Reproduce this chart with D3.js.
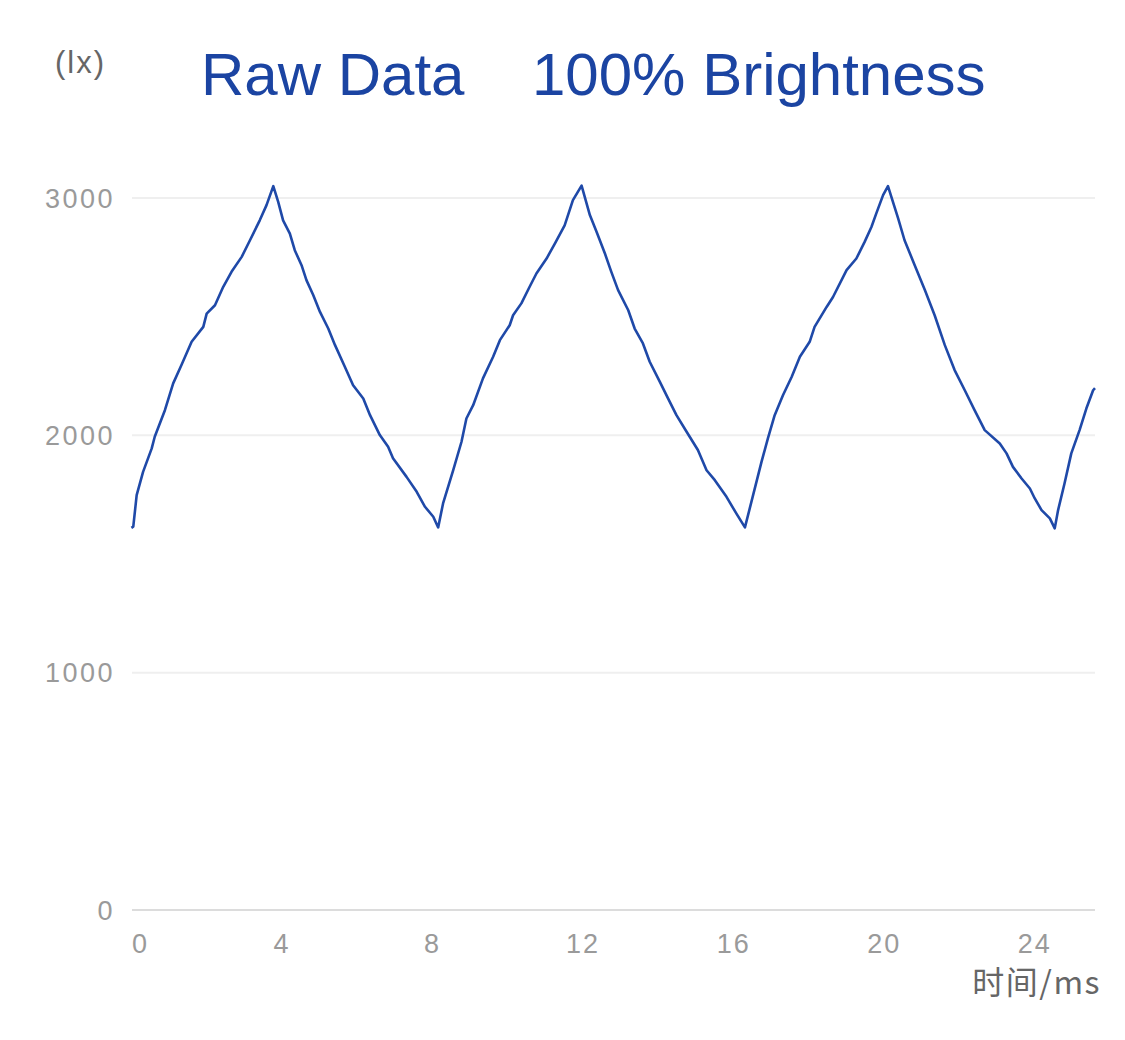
<!DOCTYPE html>
<html>
<head>
<meta charset="utf-8">
<script src="https://cdn.jsdelivr.net/npm/d3@7"></script>
<style>
  html, body { margin: 0; padding: 0; background: #fff; }
  svg { display: block; }
</style>
</head>
<body>
<svg id="chart" width="1125" height="1040"></svg>
<script>
// ---- data ----
const titleLeft = "Raw Data";
const titleRight = "100% Brightness";
const yUnit = "(lx)";
const xName = "时间/ms";
const xTicks = [0, 4, 8, 12, 16, 20, 24];
const yTicks = [0, 1000, 2000, 3000];

const timeMs = [
  0.00, 0.05, 0.14, 0.31, 0.54, 0.62, 0.89, 1.11, 1.33, 1.60, 1.91, 2.00, 2.22, 2.44, 2.66, 2.93, 3.15, 3.41, 3.59, 3.77,
  3.90, 4.03, 4.21, 4.34, 4.52, 4.65, 4.83, 5.01, 5.23, 5.41, 5.67, 5.89, 6.16, 6.34, 6.60, 6.82, 6.95, 7.31, 7.58, 7.80, 8.02, 8.15,
  8.28, 8.55, 8.77, 8.90, 9.08, 9.34, 9.61, 9.79, 10.05, 10.14, 10.36, 10.58, 10.76, 11.03, 11.25, 11.51, 11.73, 11.96,
  12.18, 12.36, 12.58, 12.75, 12.93, 13.20, 13.37, 13.59, 13.77, 14.04, 14.26, 14.48, 14.75, 15.05, 15.28, 15.50, 15.81, 16.07, 16.30,
  16.52, 16.74, 16.91, 17.09, 17.31, 17.54, 17.76, 18.02, 18.15, 18.47, 18.64, 19.00, 19.26, 19.48, 19.66, 19.79, 19.97, 20.10,
  20.37, 20.54, 20.81, 21.08, 21.34, 21.61, 21.87, 22.14, 22.40, 22.67, 23.07, 23.25, 23.42, 23.65, 23.87, 24.00, 24.18, 24.40, 24.53,
  24.62, 24.79, 24.97, 25.19, 25.37, 25.55, 25.60
];
const luxValues = [
  1610, 1615, 1748, 1846, 1945, 1994, 2106, 2219, 2296, 2394, 2457, 2513, 2548, 2626, 2689, 2752, 2822, 2906, 2970, 3050,
  2984, 2906, 2850, 2780, 2717, 2654, 2591, 2520, 2450, 2380, 2289, 2211, 2155, 2085, 2001, 1952, 1903, 1825, 1762, 1699, 1657, 1612,
  1713, 1853, 1973, 2071, 2127, 2240, 2331, 2401, 2464, 2506, 2556, 2626, 2682, 2745, 2808, 2885, 2991, 3052,
  2928, 2857, 2766, 2689, 2612, 2527, 2450, 2387, 2310, 2225, 2155, 2085, 2015, 1938, 1853, 1811, 1741, 1671, 1612,
  1750, 1888, 1987, 2085, 2169, 2246, 2331, 2394, 2457, 2541, 2583, 2696, 2745, 2815, 2878, 2935, 3012, 3050,
  2914, 2822, 2717, 2612, 2506, 2380, 2275, 2190, 2106, 2022, 1966, 1924, 1867, 1818, 1776, 1734, 1685, 1650, 1608,
  1685, 1797, 1924, 2022, 2113, 2190, 2199
];

// ---- layout ----
const svg = d3.select("#chart");
const plot = { left: 132, right: 1095, top: 198, bottom: 910 };

const x = d3.scaleLinear().domain([0, d3.max(timeMs)]).range([plot.left - 0.6, plot.right]);
const y = d3.scaleLinear().domain([0, 3000]).range([plot.bottom, plot.top]);

const fontLatin = "'Liberation Sans', Arial, Helvetica, sans-serif";
const fontCJK = "'Noto Sans CJK SC', sans-serif";

// gridlines
svg.append("g")
  .selectAll("line")
  .data(yTicks)
  .join("line")
  .attr("x1", plot.left)
  .attr("x2", plot.right)
  .attr("y1", d => y(d))
  .attr("y2", d => y(d))
  .attr("stroke", d => d === 0 ? "#dcdcdc" : "#efefef")
  .attr("stroke-width", 2);

// y labels
svg.append("g")
  .selectAll("text")
  .data(yTicks)
  .join("text")
  .attr("x", 115)
  .attr("y", d => y(d))
  .attr("dy", "0.36em")
  .attr("text-anchor", "end")
  .attr("fill", "#9a9a9a")
  .style("font-family", fontLatin)
  .style("font-size", "27px")
  .style("letter-spacing", "2.5px")
  .text(d => d);

// x labels
svg.append("g")
  .selectAll("text")
  .data(xTicks)
  .join("text")
  .attr("x", (d, i) => i === 0 ? plot.left : x(d))
  .attr("y", 953)
  .attr("text-anchor", (d, i) => i === 0 ? "start" : "middle")
  .attr("fill", "#9a9a9a")
  .style("font-family", fontLatin)
  .style("font-size", "27px")
  .style("letter-spacing", "2px")
  .text(d => d);

// line
const line = d3.line()
  .x((d, i) => x(timeMs[i]))
  .y(d => y(d))
  .curve(d3.curveLinear);

svg.append("path")
  .datum(luxValues)
  .attr("d", line)
  .attr("fill", "none")
  .attr("stroke", "#1f49a8")
  .attr("stroke-width", 2.6)
  .attr("stroke-linejoin", "round");

// titles
svg.append("text")
  .attr("x", 201)
  .attr("y", 95)
  .attr("fill", "#1b44a2")
  .style("font-family", fontLatin)
  .style("font-size", "60px")
  .text(titleLeft);

svg.append("text")
  .attr("x", 532)
  .attr("y", 95)
  .attr("fill", "#1b44a2")
  .style("font-family", fontLatin)
  .style("font-size", "60px")
  .text(titleRight);

// y unit
svg.append("text")
  .attr("x", 55)
  .attr("y", 73)
  .attr("fill", "#666")
  .style("font-family", fontLatin)
  .style("font-size", "31px")
  .style("letter-spacing", "2px")
  .text(yUnit);

// x name
svg.append("text")
  .attr("x", 1101)
  .attr("y", 994)
  .attr("text-anchor", "end")
  .attr("fill", "#666")
  .style("font-family", fontCJK)
  .style("font-size", "32px")
  .style("letter-spacing", "1.5px")
  .text(xName);
</script>
</body>
</html>
